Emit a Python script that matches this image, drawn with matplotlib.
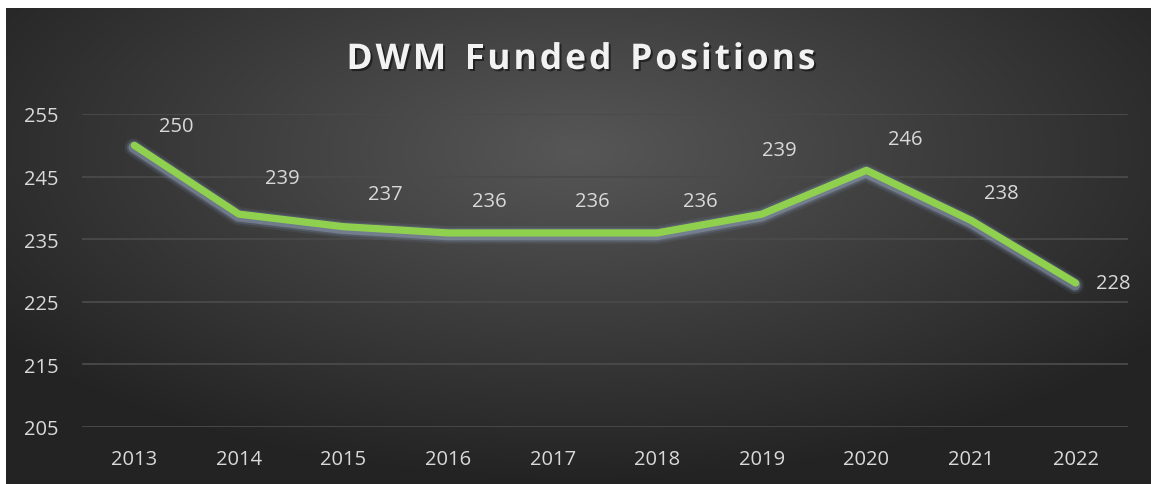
import matplotlib.pyplot as plt
import matplotlib.patheffects as pe
import numpy as np

years = ['2013', '2014', '2015', '2016', '2017', '2018', '2019', '2020', '2021', '2022']
positions = [250, 239, 237, 236, 236, 236, 239, 246, 238, 228]
yticks = [205, 215, 225, 235, 245, 255]
title = 'DWM Funded Positions'

# label offsets in pixels (dx, dy), placed by hand in the original
label_off = [(42, 19), (43, 36), (42, 33), (41, 32), (40, 32), (43, 32),
             (17, 64), (39, 31), (30, 27), (38, 0)]

W, H = 1151, 485
fig = plt.figure(figsize=(W / 100, H / 100), dpi=100)
fig.patch.set_facecolor('white')

# radial gradient background
bg = fig.add_axes([6 / W, 0, 1 - 6 / W, 1 - 9 / H])
bg.set_axis_off()
gx, gy = np.meshgrid(np.linspace(0, 1, 600), np.linspace(0, 1, 300))
r = np.sqrt(((gx - 0.5) * 1.0) ** 2 + ((gy - 0.3) * 0.9) ** 2)
r = np.clip(r / 0.62, 0, 1)
c0, c1 = np.array([0.34, 0.34, 0.34]), np.array([0.14, 0.14, 0.14])
img = c0[None, None, :] * (1 - r[..., None]) + c1[None, None, :] * r[..., None]
bg.imshow(img, aspect='auto', extent=[0, 1, 1, 0], interpolation='bilinear')
bg.set_xlim(0, 1)
bg.set_ylim(1, 0)

ax = fig.add_axes([82 / W, 1 - 428 / H, 1046 / W, 313 / H])
ax.patch.set_alpha(0)
x = np.arange(len(years))

glow = [pe.SimpleLineShadow(offset=(-0.5, -1.5), shadow_color='#7f95b5', alpha=0.12, linewidth=13),
        pe.SimpleLineShadow(offset=(-0.5, -1.5), shadow_color='#8ea4c4', alpha=0.2, linewidth=10),
        pe.SimpleLineShadow(offset=(-0.5, -1.5), shadow_color='#a9bbd6', alpha=0.35, linewidth=7.5),
        pe.Normal()]
ax.plot(x, positions, color='#8fd14f', lw=5.2, solid_capstyle='round',
        solid_joinstyle='round', path_effects=glow, zorder=3)

for i, v in enumerate(positions):
    dx, dy = label_off[i]
    ax.annotate(str(v), (x[i], v), xytext=(dx * 0.72, dy * 0.72), textcoords='offset points',
                ha='center', va='center', color='#d9d9d9', fontsize=14.5, family='Open Sans')

ax.set_xlim(-0.5, len(years) - 0.5)
ax.set_ylim(205, 255)
ax.set_yticks(yticks)
ax.set_xticks(x)
ax.set_xticklabels(years)
ax.grid(axis='y', color='#4a4a4a', lw=1.3)
ax.set_axisbelow(True)
for s in ax.spines.values():
    s.set_visible(False)
ax.tick_params(length=0, colors='#d9d9d9', labelsize=14.5)
ax.tick_params(axis='y', pad=17)
ax.tick_params(axis='x', pad=16)
for lab in ax.get_xticklabels() + ax.get_yticklabels():
    lab.set_family('Open Sans')

# title with letter spacing: place characters one by one
renderer = fig.canvas.get_renderer()
tkw = dict(color='#f2f2f2', fontsize=25.5, fontweight='bold', family='Open Sans', va='center',
           path_effects=[pe.withSimplePatchShadow(offset=(1.5, -1.5), shadow_rgbFace='black', alpha=0.5)])
track = 3.0
widths = []
for ch in title:
    t = fig.text(0, 0, ch if ch != ' ' else 'n', **tkw)
    w = t.get_window_extent(renderer).width
    widths.append(w * 0.55 if ch == ' ' else w)
    t.remove()
total = sum(widths) + track * (len(title) - 1)
xpos = 581 - total / 2
ty = 1 - 61 / H
for ch, w in zip(title, widths):
    if ch != ' ':
        fig.text(xpos / W, ty, ch, ha='left', **tkw)
    xpos += w + track

fig.savefig('out.png', dpi=100)
